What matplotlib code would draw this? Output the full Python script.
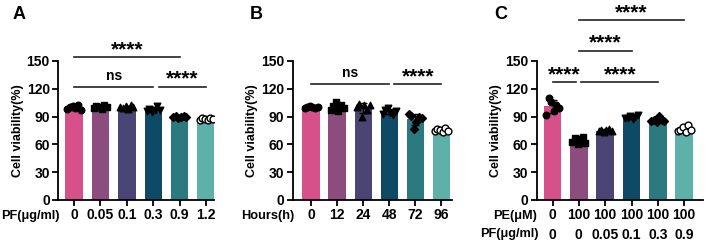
import numpy as np
import matplotlib
matplotlib.use('Agg')
import matplotlib.pyplot as plt

plt.rcParams['font.family'] = ['Liberation Sans', 'DejaVu Sans']
plt.rcParams['font.weight'] = 'bold'

# Data
a_labels = ['0', '0.05', '0.1', '0.3', '0.9', '1.2']
a_vals = [[98, 100, 101, 99, 103, 97],
          [99, 101, 100, 98, 102, 100],
          [100, 99, 101, 98, 102, 100],
          [96, 98, 95, 97, 101, 97],
          [90, 91, 89, 90, 91, 90],
          [86, 88, 87, 86, 88, 87]]

b_labels = ['0', '12', '24', '48', '72', '96']
b_vals = [[99, 100, 101, 100, 99, 100],
          [97, 101, 106, 96, 103, 99],
          [100, 104, 90, 102, 97, 103],
          [93, 97, 99, 94, 92, 96],
          [93, 91, 77, 84, 90, 88],
          [74, 77, 76, 73, 78, 74]]

c_pe = ['0', '100', '100', '100', '100', '100']
c_pf = ['0', '0', '0.05', '0.1', '0.3', '0.9']
c_vals = [[92, 110, 106, 96, 103, 99],
          [63, 67, 60, 66, 68, 62],
          [74, 76, 73, 75, 77, 74],
          [89, 88, 91, 87, 90, 92],
          [85, 86, 84, 91, 86, 85],
          [74, 76, 79, 73, 81, 76]]

colors = ['#D6508A', '#8C4C7E', '#4A4574', '#0E4A66', '#2B7A80', '#5EB1A8']
markers = ['o', 's', '^', 'v', 'D', 'o']

fig = plt.figure(figsize=(7.09, 2.43), dpi=100)
FS = 10
RS = 9.2


def panel(rect, vals, xlim):
    ax = fig.add_axes(rect)
    x = np.arange(len(vals))
    means = [np.mean(v) for v in vals]
    sds = [np.std(v, ddof=1) for v in vals]
    ax.bar(x, means, width=0.66, color=colors, zorder=1)
    ax.errorbar(x, means, yerr=sds, fmt='none', ecolor='black',
                elinewidth=1, capsize=3, capthick=1, zorder=2)
    for i, v in enumerate(vals):
        off = np.linspace(-0.25, 0.25, len(v))
        if i == 5:
            ax.scatter(x[i] + off, v, s=24, facecolors='white',
                       edgecolors='black', linewidths=1.0, zorder=3)
        else:
            ax.scatter(x[i] + off, v, s=16 if markers[i] == 'D' else 22,
                       marker=markers[i], color='black', zorder=3)
    ax.set_xlim(*xlim)
    ax.set_ylim(0, 150)
    ax.set_yticks([0, 30, 60, 90, 120, 150])
    ax.set_xticks(x)
    for s in ['top', 'right']:
        ax.spines[s].set_visible(False)
    for s in ['left', 'bottom']:
        ax.spines[s].set_linewidth(1.3)
    ax.tick_params(axis='both', width=1.3, length=4, labelsize=FS, pad=2)
    ax.set_ylabel('Cell viability(%)', fontsize=9, fontweight='bold', labelpad=2)
    return ax


def sig(ax, x1, x2, y, text, big=True):
    ax.plot([x1, x2], [y, y], color='#222222', lw=1.2, clip_on=False)
    if big:
        ax.text((x1 + x2) / 2, y - 2, text, ha='center', va='bottom',
                fontsize=15, fontweight='bold', clip_on=False)
    else:
        ax.text((x1 + x2) / 2, y + 4, text, ha='center', va='bottom',
                fontsize=FS, fontweight='bold', clip_on=False)


# Panel A
axA = panel([0.082, 0.177, 0.220, 0.572], a_vals, (-0.6, 5.3))
axA.set_xticklabels(a_labels)
axA.text(0.01, -0.07, 'PF(\u03bcg/ml)', transform=axA.transAxes, ha='right',
         va='top', fontsize=RS, fontweight='bold')
sig(axA, 0, 4, 154, '****')
sig(axA, 0, 3, 122, 'ns', big=False)
sig(axA, 3.2, 5, 122, '****')

# Panel B
axB = panel([0.413, 0.177, 0.224, 0.572], b_vals, (-0.7, 5.4))
axB.set_xticklabels(b_labels)
axB.text(0.01, -0.07, 'Hours(h)', transform=axB.transAxes, ha='right',
         va='top', fontsize=RS, fontweight='bold')
sig(axB, 0, 3, 125, 'ns', big=False)
sig(axB, 3.2, 5, 125, '****')

# Panel C
axC = panel([0.757, 0.177, 0.234, 0.572], c_vals, (-0.6, 5.7))
axC.set_xticklabels(c_pe)
for i, lab in enumerate(c_pf):
    axC.text(i, -0.2, lab, transform=axC.get_xaxis_transform(), ha='center',
             va='top', fontsize=FS, fontweight='bold')
axC.text(0.0, -0.07, 'PE(\u03bcM)', transform=axC.transAxes, ha='right',
         va='top', fontsize=RS, fontweight='bold')
axC.text(0.01, -0.2, 'PF(\u03bcg/ml)', transform=axC.transAxes, ha='right',
         va='top', fontsize=RS, fontweight='bold')
sig(axC, 1, 5, 194, '****')
sig(axC, 1, 3, 161, '****')
sig(axC, 0, 0.9, 127, '****')
sig(axC, 1.1, 4, 127, '****')

# panel letters
fig.text(0.018, 0.975, 'A', fontsize=13, fontweight='bold', va='top')
fig.text(0.352, 0.975, 'B', fontsize=13, fontweight='bold', va='top')
fig.text(0.697, 0.975, 'C', fontsize=13, fontweight='bold', va='top')

fig.savefig('out.png', dpi=100)
